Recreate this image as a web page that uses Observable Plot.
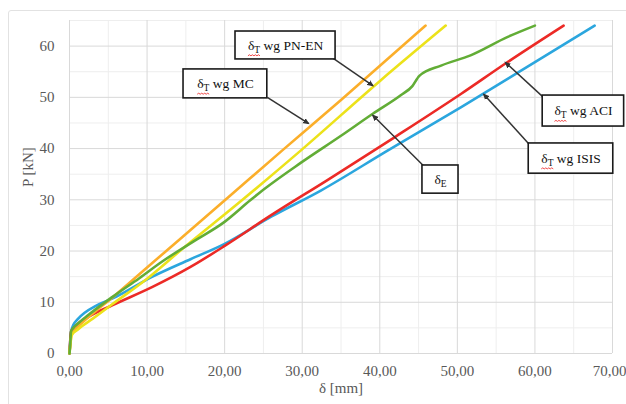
<!DOCTYPE html>
<html>
<head>
<meta charset="utf-8">
<script src="https://cdn.jsdelivr.net/npm/d3@7"></script>
<script src="https://cdn.jsdelivr.net/npm/@observablehq/plot@0.6"></script>
<style>
  html, body { margin: 0; padding: 0; background: #fff; overflow: hidden; }
  #wrap { position: relative; width: 626px; height: 404px; }
  #border { position: absolute; left: 8px; top: 10px; width: 640px; height: 420px; border: 1px solid #e2e2e2; border-radius: 3px; }
  #chart { position: absolute; left: 0; top: 0; }
</style>
</head>
<body>
<div id="wrap"><div id="border"></div><div id="chart"></div></div>
<script>
// ---- data ----
const xTicks = [0, 10, 20, 30, 40, 50, 60, 70];
const yTicks = [0, 10, 20, 30, 40, 50, 60];
const xMinor = [5, 15, 25, 35, 45, 55, 65];
const yMinor = [5, 15, 25, 35, 45, 55, 65];

// δT wg MC (orange)
const mcDelta = [0, 0.3, 1.0, 3.0, 5.5, 10, 14.3, 20.1, 27.4, 35, 45.9];
const mcP     = [0, 4.0, 5.1, 7.8, 10.9, 16.8, 22.4, 30, 39.6, 49.5, 64];
// δT wg PN-EN (yellow)
const pnDelta = [0, 0.3, 1.0, 3.0, 5.5, 10, 14.3, 22.3, 29.8, 40.1, 48.5];
const pnP     = [0, 3.6, 4.6, 6.8, 9.6, 14.6, 20.1, 30, 39.6, 53.3, 64];
// δE experimental (green)
const exDelta = [0, 0.1, 0.2, 0.5, 0.9, 2.5, 5.5, 9, 12, 16, 19.9, 23.3, 25.2, 29.8, 35, 39.1, 42.7, 44.2, 45.1, 47.9, 51.7, 56.5, 60];
const exP     = [0, 2.0, 4.3, 5.0, 5.6, 7.6, 11, 14.7, 18.0, 21.9, 25.6, 29.9, 32.2, 37.2, 42.5, 46.8, 50.4, 52.2, 54.2, 56.2, 58.2, 61.8, 64];
// δT wg ACI (red)
const aciDelta = [0, 0.2, 0.8, 2.5, 5.5, 10.7, 15.6, 20, 26, 33.2, 42, 50.5, 56.2, 63.7];
const aciP     = [0, 4.2, 5.4, 7.2, 9.4, 13, 16.9, 21, 27, 33.8, 42.3, 50.7, 56.6, 64];
// δT wg ISIS (blue)
const isisDelta = [0, 0.2, 0.5, 1.0, 2.0, 3.4, 5.5, 10.7, 15.6, 20, 26, 32.4, 41, 50.5, 58, 67.7];
const isisP     = [0, 4.2, 5.6, 6.6, 8.0, 9.3, 10.7, 15, 18.4, 21.4, 26.7, 31.8, 39.6, 48.1, 55, 64];

// annotation labels
const annoText = ["δ_T wg PN-EN", "δ_T wg MC", "δ_E", "δ_T wg ACI", "δ_T wg ISIS"];

// ---- build tables ----
const toRows = (xs, ys) => xs.map((d, i) => ({d, p: ys[i]}));
const series = [
  {rows: toRows(isisDelta, isisP), color: "#2ba6de"},
  {rows: toRows(aciDelta, aciP), color: "#ec2a26"},
  {rows: toRows(mcDelta, mcP), color: "#fbae2a"},
  {rows: toRows(pnDelta, pnP), color: "#ece21a"},
  {rows: toRows(exDelta, exP), color: "#62ad36"}
];

// annotation geometry (data coordinates)
const annoX1 = [21.4, 14.7, 45.5, 61.0, 59.2];
const annoX2 = [34.3, 25.5, 50.15, 71.5, 70.1];
const annoY1 = [57.4, 49.8, 31.2, 44.3, 35.1];
const annoY2 = [62.85, 55.45, 36.7, 50.35, 41.0];
const arrX1 = [34.0, 25.5, 45.6, 61.1, 59.4];
const arrY1 = [57.6, 50.0, 36.7, 50.0, 40.6];
const arrX2 = [39.1, 30.8, 39.1, 56.2, 53.4];
const arrY2 = [52.3, 44.9, 46.5, 56.8, 50.6];
const annos = annoText.map((t, i) => ({
  t, x1: annoX1[i], x2: annoX2[i], y1: annoY1[i], y2: annoY2[i],
  ax1: arrX1[i], ay1: arrY1[i], ax2: arrX2[i], ay2: arrY2[i]
}));

const fmt = d => d.toFixed(2).replace(".", ",");

const chart = Plot.plot({
  width: 626,
  height: 404,
  marginLeft: 69,
  marginRight: 14,
  marginTop: 20,
  marginBottom: 51,
  style: {fontFamily: "'Liberation Serif', serif", fontSize: "15px", color: "#595959", background: "transparent"},
  x: {domain: [0, 70], ticks: xTicks, tickFormat: fmt, tickSize: 0, tickPadding: 12, label: null},
  y: {domain: [0, 65], ticks: yTicks, tickSize: 0, tickPadding: 15, label: null},
  marks: [
    Plot.ruleX(xMinor, {stroke: "#eeeeee", strokeWidth: 1}),
    Plot.ruleY(yMinor, {stroke: "#eeeeee", strokeWidth: 1}),
    Plot.ruleX(xTicks, {stroke: "#d9d9d9", strokeWidth: 1}),
    Plot.ruleY(yTicks, {stroke: "#d9d9d9", strokeWidth: 1}),
    ...series.map(s => Plot.line(s.rows, {x: "d", y: "p", stroke: s.color, strokeWidth: 2.6, curve: "monotone-x"})),
    Plot.link(annos, {x1: "ax1", y1: "ay1", x2: "ax2", y2: "ay2", stroke: "#333", strokeWidth: 1.5, markerEnd: "arrow"}),
    Plot.rect(annos, {x1: "x1", x2: "x2", y1: "y1", y2: "y2", fill: "white", stroke: "#1a1a1a", strokeWidth: 1.6}),
    Plot.text(annos, {x: d => (d.x1 + d.x2) / 2, y: d => (d.y1 + d.y2) / 2, text: "t", fill: "#111", fontSize: 13.5}),
    Plot.text(["δ [mm]"], {frameAnchor: "bottom", dy: 39, fill: "#595959"}),
    Plot.text(["P [kN]"], {frameAnchor: "left", dx: -41, rotate: -90, fill: "#595959"})
  ]
});

// filled arrowheads
d3.select(chart).selectAll("marker path")
  .attr("d", "M-6,-3.2L1.5,0L-6,3.2Z")
  .attr("fill", "#333")
  .attr("stroke", "none");

// keep the last x tick label inside the picture
d3.select(chart).selectAll("text").filter(function() { return this.textContent === "70,00"; }).attr("dx", -3);

// render subscripts in annotation labels
const subTexts = [];
d3.select(chart).selectAll("text").each(function() {
  const s = this.textContent;
  const k = s.indexOf("_");
  if (k < 0) return;
  const base = s.slice(0, k), sub = s.charAt(k + 1), rest = s.slice(k + 2);
  const el = d3.select(this);
  el.text(null);
  el.append("tspan").text(base);
  el.append("tspan").attr("dy", 3).attr("font-size", "9.5px").text(sub);
  el.append("tspan").attr("dy", -3).text(rest);
  if (sub === "T") subTexts.push(this);
});

document.getElementById("chart").appendChild(chart);

// red proofing squiggle under δT
for (const t of subTexts) {
  const a = t.getStartPositionOfChar(0);
  const b = t.getEndPositionOfChar(1);
  const y = a.y + 6;
  let dpath = `M${a.x},${y}`;
  let up = true;
  for (let x = a.x + 1.5; x <= b.x + 0.5; x += 1.5) { dpath += `L${x},${y + (up ? -1 : 0)}`; up = !up; }
  const p = document.createElementNS("http://www.w3.org/2000/svg", "path");
  p.setAttribute("d", dpath);
  p.setAttribute("fill", "none");
  p.setAttribute("stroke", "#e33");
  p.setAttribute("stroke-width", "0.9");
  const tr = t.getAttribute("transform");
  if (tr) p.setAttribute("transform", tr);
  t.parentNode.insertBefore(p, t.nextSibling);
}
</script>
</body>
</html>
